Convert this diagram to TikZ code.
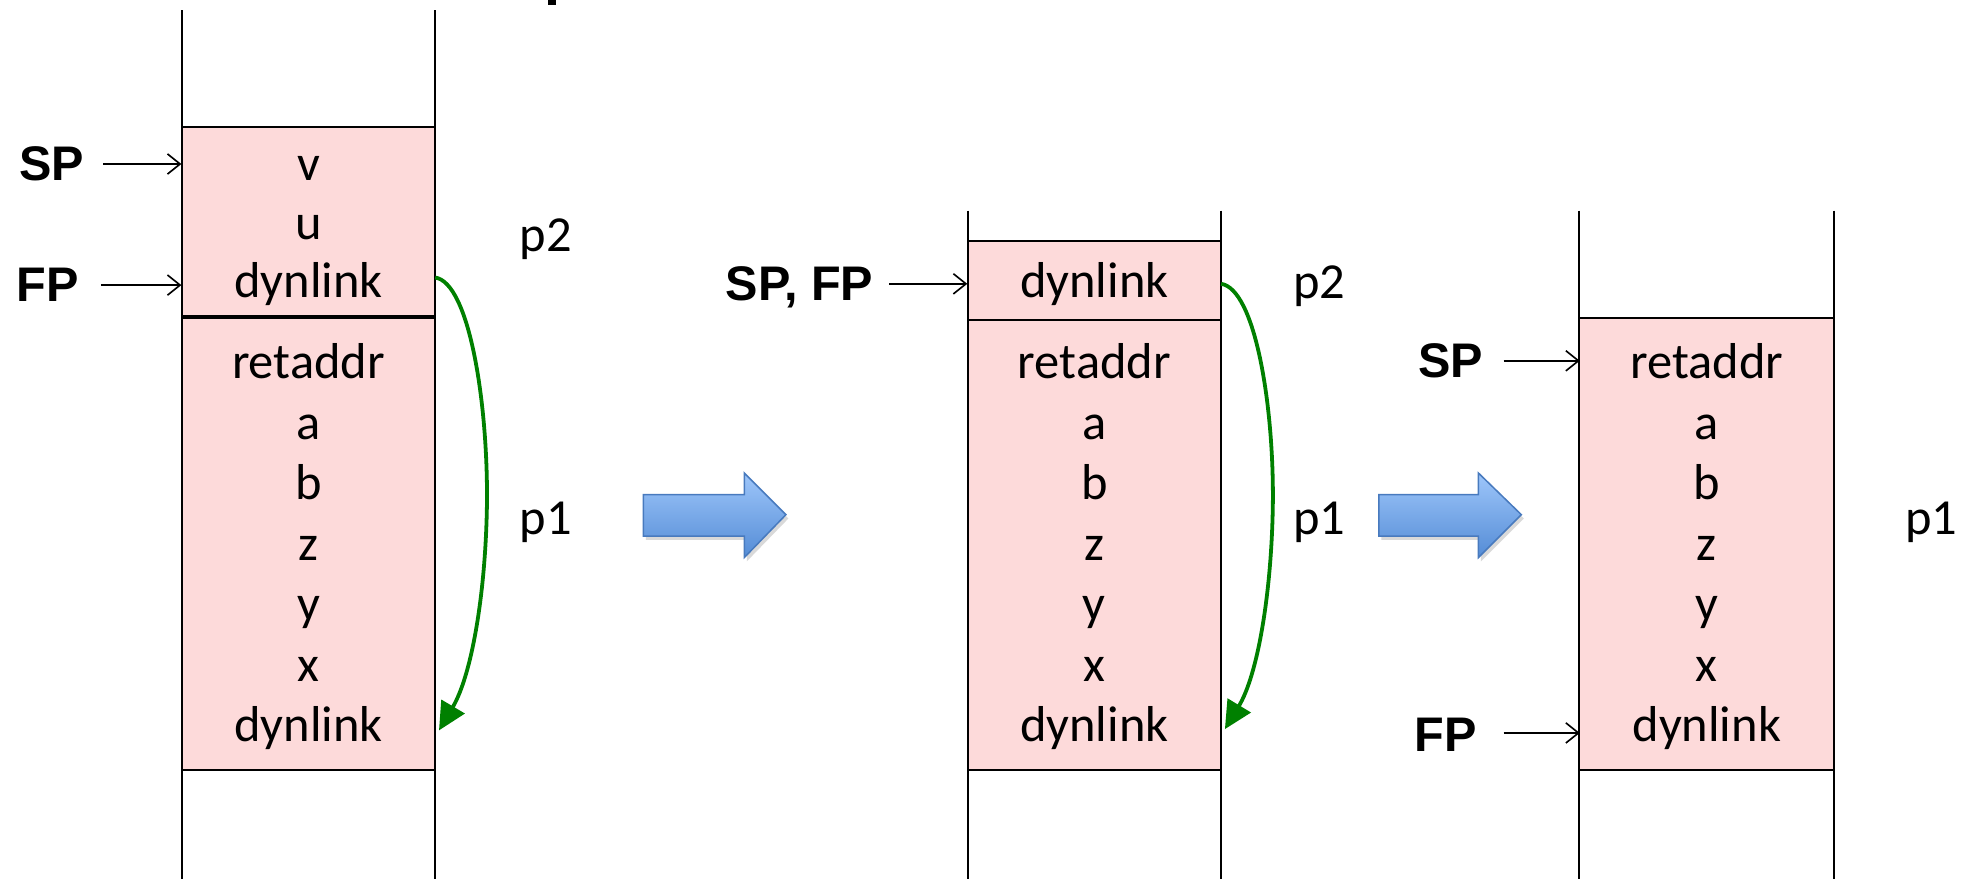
\documentclass[tikz,border=0pt]{standalone}
\usepackage{fontspec}
\setmainfont{Carlito}
\newfontfamily\labelfont{Liberation Sans}
\usetikzlibrary{arrows.meta}
\definecolor{cellpink}{RGB}{253,218,218}
\definecolor{linkgreen}{RGB}{0,128,0}
\definecolor{arrowtop}{RGB}{158,198,250}
\definecolor{arrowbot}{RGB}{84,140,214}
\definecolor{arrowedge}{RGB}{72,122,190}
\begin{document}
\begin{tikzpicture}[x=1pt,y=-1pt,
  cell/.style={font=\fontsize{40}{48}\selectfont, inner sep=0pt, minimum width=201pt, anchor=base},
  ptr/.style={font=\labelfont\bfseries\fontsize{38.5}{44}\selectfont, inner sep=0pt, anchor=base west},
  proc/.style={font=\fontsize{40}{48}\selectfont, inner sep=0pt, anchor=base west},
  wall/.style={line width=1.6pt},
  frame/.style={fill=cellpink, draw=black, line width=1.6pt},
  ptrarrow/.style={-{Straight Barb[length=10pt,width=16pt]}, line width=1.3pt},
  dynarrow/.style={-{Triangle[length=22pt,width=21pt]}, draw=linkgreen, fill=none, line width=3pt},
  bigarrow/.style={draw=arrowedge, line width=1.2pt, top color=arrowtop, bottom color=arrowbot},
  arrowshadow/.style={fill=black, opacity=0.15}
]
\useasboundingbox (0,0) rectangle (1568,697);

% fragment of the heading above the picture
\fill (434.5,0) rectangle (440.5,4);

% ---------- stack 1: inside p2 ----------
\draw[wall] (144,8) -- (144,697);
\draw[wall] (345,8) -- (345,697);
\draw[frame] (144,101) rectangle (345,251);
\draw[frame] (144,251) rectangle (345,610);
\draw[line width=3pt] (144,251) -- (345,251);

\node[cell] (a1) at (244.5,143) {v};
\node[cell] (a2) at (244.5,190) {u};
\node[cell] (a3) at (244.5,236) {dynlink};
\node[cell] (a4) at (244.5,300) {retaddr};
\node[cell] (a5) at (244.5,348) {a};
\node[cell] (a6) at (244.5,396) {b};
\node[cell] (a7) at (244.5,444) {z};
\node[cell] (a8) at (244.5,492) {y};
\node[cell] (a9) at (244.5,540) {x};
\node[cell] (a10) at (244.5,588) {dynlink};

\node[ptr] (asp) at (15,143) {SP};
\node[ptr] (afp) at (13,239) {FP};
\coordinate (asptail) at (82,130);
\coordinate (afptail) at (80,226);
\draw[ptrarrow] (asptail) -- (asptail -| a1.west);
\draw[ptrarrow] (afptail) -- (afptail -| a3.west);

\node[proc] (ap2) at (412,199) {p2};
\node[proc] (ap1) at (412,424) {p1};

\coordinate (alink) at (345,220);
\coordinate (alinkend) at (348,579);
\draw[dynarrow] (alink) .. controls (372,224) and (387,320) .. (386,400)
  .. controls (385,470) and (374,535) .. (alinkend);

% ---------- transition arrow 1 ----------
\fill[arrowshadow] (512,395) -- (592,395) -- (592,378) -- (625,411) -- (592,445) -- (592,428) -- (512,428) -- cycle;
\shade[bigarrow] (510,392) -- (590,392) -- (590,375) -- (623,408) -- (590,442) -- (590,425) -- (510,425) -- cycle;

% ---------- stack 2: p2 after its locals are popped ----------
\draw[wall] (767,167) -- (767,697);
\draw[wall] (968,167) -- (968,697);
\draw[frame] (767,191) rectangle (968,254);
\draw[frame] (767,254) rectangle (968,610);

\node[cell] (b3) at (867.5,236) {dynlink};
\node[cell] (b4) at (867.5,300) {retaddr};
\node[cell] (b5) at (867.5,348) {a};
\node[cell] (b6) at (867.5,396) {b};
\node[cell] (b7) at (867.5,444) {z};
\node[cell] (b8) at (867.5,492) {y};
\node[cell] (b9) at (867.5,540) {x};
\node[cell] (b10) at (867.5,588) {dynlink};

\node[ptr] (bspfp) at (575,238) {SP, FP};
\coordinate (bptrtail) at (705,225);
\draw[ptrarrow] (bptrtail) -- (bptrtail -| b3.west);

\node[proc] (bp2) at (1025,237) {p2};
\node[proc] (bp1) at (1025,424) {p1};

\coordinate (blink) at (968,225);
\coordinate (blinkend) at (971,578);
\draw[dynarrow] (blink) .. controls (995,229) and (1010,322) .. (1009,400)
  .. controls (1008,470) and (997,535) .. (blinkend);

% ---------- transition arrow 2 ----------
\fill[arrowshadow] (1095,395) -- (1174,395) -- (1174,378) -- (1208,411) -- (1174,445) -- (1174,428) -- (1095,428) -- cycle;
\shade[bigarrow] (1093,392) -- (1172,392) -- (1172,375) -- (1206,408) -- (1172,442) -- (1172,425) -- (1093,425) -- cycle;

% ---------- stack 3: back in p1 ----------
\draw[wall] (1252,167) -- (1252,697);
\draw[wall] (1454,167) -- (1454,697);
\draw[frame] (1252,252) rectangle (1454,610);

\node[cell] (c4) at (1353,300) {retaddr};
\node[cell] (c5) at (1353,348) {a};
\node[cell] (c6) at (1353,396) {b};
\node[cell] (c7) at (1353,444) {z};
\node[cell] (c8) at (1353,492) {y};
\node[cell] (c9) at (1353,540) {x};
\node[cell] (c10) at (1353,588) {dynlink};

\node[ptr] (csp) at (1124,299) {SP};
\node[ptr] (cfp) at (1121,596) {FP};
\coordinate (csptail) at (1192,286);
\coordinate (cfptail) at (1192,581);
\draw[ptrarrow] (csptail) -- (csptail -| c4.west);
\draw[ptrarrow] (cfptail) -- (cfptail -| c10.west);

\node[proc] (cp1) at (1510,424) {p1};
\end{tikzpicture}
\end{document}
